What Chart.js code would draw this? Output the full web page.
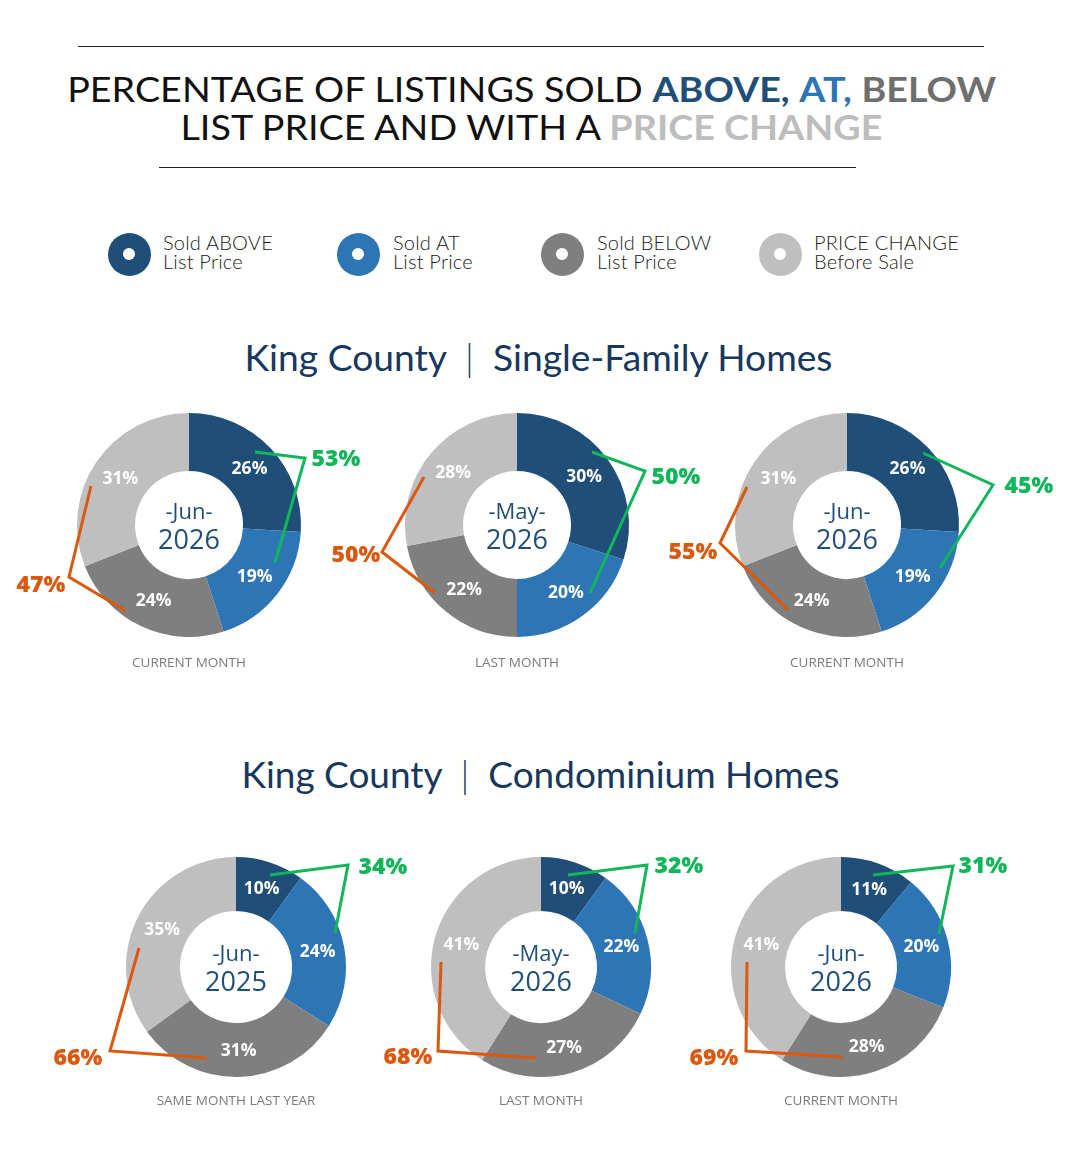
<!DOCTYPE html>
<html>
<head>
<meta charset="utf-8">
<script src="https://cdn.jsdelivr.net/npm/chart.js@4.4.1/dist/chart.umd.min.js"></script>
<style>
html,body{margin:0;padding:0;background:#fff;}
body{width:1080px;height:1158px;position:relative;overflow:hidden;font-family:Lato,"Open Sans",sans-serif;}
.rule{position:absolute;height:1px;background:#222;}
.line{position:absolute;left:0;width:1080px;text-align:center;white-space:pre;line-height:1.2;}
.line span{display:inline-block;transform-origin:50% 50%;}
.t{font-size:35px;font-weight:400;color:#111;}
.t b{font-weight:700;}
.sub{font-size:37px;font-weight:400;color:#17375e;}
.sub i{font-style:normal;font-weight:300;}
.ico{position:absolute;width:43px;height:43px;border-radius:50%;}
.ico::after{content:"";position:absolute;left:15.5px;top:15.5px;width:12px;height:12px;border-radius:50%;background:#fff;}
.ltxt{position:absolute;font-size:20px;line-height:19px;font-weight:300;color:#1a1a1a;white-space:nowrap;letter-spacing:0.2px;}
canvas{position:absolute;}
</style>
</head>
<body>
<div class="rule" style="left:78px;width:906px;top:46px;"></div>
<div class="line t" style="top:67px;"><span id="t1">PERCENTAGE OF LISTINGS SOLD <b style="color:#1f4e79">ABOVE,</b> <b style="color:#2e75b6">AT,</b> <b style="color:#6f6f6f">BELOW</b></span></div>
<div class="line t" style="top:105px;"><span id="t2">LIST PRICE AND WITH A <b style="color:#bdbdbd">PRICE CHANGE</b></span></div>
<div class="rule" style="left:159px;width:697px;top:167px;"></div>
<div id="legend"></div>
<div class="line sub" style="top:335px;"><span id="s1"></span></div>
<div class="line sub" style="top:752px;"><span id="s2"></span></div>
<div id="charts"></div>
<script>
// ---------- DATA ----------
const segmentNames = ['Sold ABOVE List Price', 'Sold AT List Price', 'Sold BELOW List Price', 'PRICE CHANGE Before Sale'];
const legendLine1 = ['Sold ABOVE', 'Sold AT', 'Sold BELOW', 'PRICE CHANGE'];
const legendLine2 = ['List Price', 'List Price', 'List Price', 'Before Sale'];
const segColors = ['#1f4e79', '#2e75b6', '#7f7f7f', '#bfbfbf'];

const sfTitle = ['King County', 'Single-Family Homes'];
const sfMonths = ['Jun', 'May', 'Jun'];
const sfYears = ['2026', '2026', '2026'];
const sfCaptions = ['CURRENT MONTH', 'LAST MONTH', 'CURRENT MONTH'];
const sfAbove = [26, 30, 26];
const sfAt = [19, 20, 19];
const sfBelow = [24, 22, 24];
const sfChange = [31, 28, 31];
const sfAboveAtTotal = [53, 50, 45];
const sfBelowChangeTotal = [47, 50, 55];

const condoTitle = ['King County', 'Condominium Homes'];
const condoMonths = ['Jun', 'May', 'Jun'];
const condoYears = ['2025', '2026', '2026'];
const condoCaptions = ['SAME MONTH LAST YEAR', 'LAST MONTH', 'CURRENT MONTH'];
const condoAbove = [10, 10, 11];
const condoAt = [24, 22, 20];
const condoBelow = [31, 27, 28];
const condoChange = [35, 41, 41];
const condoAboveAtTotal = [34, 32, 31];
const condoBelowChangeTotal = [66, 68, 69];

// ---------- LAYOUT (positions / styles only) ----------
const GREEN = '#12b65a';
const ORANGE = '#db580f';
const sfLayout = {
  centers: [[189, 525], [517, 525], [847, 525]], R: 112, inner: 54,
  green: [[[66,-73],[116,-67],[86,38]], [[75,-73],[128,-54],[73,68]], [[76,-72],[146,-40],[93,43]]],
  orange: [[[-98,-39],[-120,52],[-63,86]], [[-93,-48],[-135,27],[-82,68]], [[-100,-38],[-127,18],[-59,85]]],
  greenLab: [[147,-66], [159,-48], [182,-39]],
  orangeLab: [[-148,60], [-161,30], [-154,27]],
  capDy: 142
};
const condoLayout = {
  centers: [[236, 967], [541, 967], [841, 967]], R: 110, inner: 56,
  green: [[[34,-92],[112,-102],[99,-34]], [[27,-92],[106,-102],[94,-34]], [[32,-92],[112,-101],[98,-33]]],
  orange: [[[-97,-19],[-126,84],[-29,91]], [[-100,-5],[-103,84],[-5,91]], [[-94,-5],[-95,84],[2,90]]],
  greenLab: [[147,-100], [138,-101], [142,-101]],
  orangeLab: [[-158,91], [-133,90], [-127,91]],
  capDy: 138
};
const legendX = [[129, 163], [358, 393], [562, 597], [780, 814]];

// ---------- TITLES ----------
document.getElementById('s1').innerHTML = sfTitle[0] + '  <i>|</i>  ' + sfTitle[1];
document.getElementById('s2').innerHTML = condoTitle[0] + '  <i>|</i>  ' + condoTitle[1];
function fitBox(id, left, right) {
  const el = document.getElementById(id);
  el.style.transform = 'none';
  const r = el.getBoundingClientRect();
  const s = (right - left) / r.width;
  const dx = (left + right) / 2 - (r.left + r.width / 2);
  el.style.transform = 'translateX(' + dx + 'px) scaleX(' + s + ')';
}
fitBox('t1', 67, 996); fitBox('t2', 180, 882); fitBox('s1', 244, 832); fitBox('s2', 241, 839);

// ---------- LEGEND ----------
const legend = document.getElementById('legend');
legendLine1.forEach((l1, i) => {
  const ico = document.createElement('div');
  ico.className = 'ico';
  ico.style.left = (legendX[i][0] - 21.5) + 'px';
  ico.style.top = (254 - 21.5) + 'px';
  ico.style.background = segColors[i];
  legend.appendChild(ico);
  const t = document.createElement('div');
  t.className = 'ltxt';
  t.style.left = legendX[i][1] + 'px';
  t.style.top = '233px';
  t.innerHTML = l1 + '<br>' + legendLine2[i];
  legend.appendChild(t);
});

// ---------- CHARTS ----------
const W = 440, H = 300;
function decorPlugin(cfg) {
  return {
    id: 'ringDecor',
    afterDatasetsDraw(chart) {
      const ctx = chart.ctx;
      const arcs = chart.getDatasetMeta(0).data;
      const cx = arcs[0].x, cy = arcs[0].y;
      ctx.save();
      const bracket = (pts, color) => {
        ctx.beginPath();
        pts.forEach((p, i) => { const x = cx + p[0], y = cy + p[1]; if (i) ctx.lineTo(x, y); else ctx.moveTo(x, y); });
        ctx.strokeStyle = color; ctx.lineWidth = 3; ctx.lineJoin = 'miter'; ctx.lineCap = 'butt';
        ctx.stroke();
      };
      bracket(cfg.green, GREEN);
      bracket(cfg.orange, ORANGE);
      const vals = chart.data.datasets[0].data;
      ctx.textAlign = 'center';
      ctx.textBaseline = 'middle';
      ctx.fillStyle = '#ffffff';
      ctx.font = '700 17.5px "Open Sans"';
      arcs.forEach((a, i) => { const p = a.getCenterPoint(); ctx.fillText(vals[i] + '%', p.x, p.y + 1); });
      ctx.font = '800 23px "Open Sans"';
      ctx.fillStyle = GREEN;
      ctx.fillText(cfg.greenVal + '%', cx + cfg.greenLab[0], cy + cfg.greenLab[1]);
      ctx.fillStyle = ORANGE;
      ctx.fillText(cfg.orangeVal + '%', cx + cfg.orangeLab[0], cy + cfg.orangeLab[1]);
      ctx.textBaseline = 'alphabetic';
      ctx.fillStyle = '#1f4e79';
      ctx.font = '400 22px "Open Sans"';
      ctx.fillText('-' + cfg.month + '-', cx, cy - 6);
      ctx.font = '400 27px "Open Sans"';
      ctx.fillText(cfg.year, cx, cy + 24);
      ctx.fillStyle = '#7a7a7a';
      ctx.font = '400 13.5px "Open Sans"';
      ctx.fillText(cfg.caption, cx, cy + cfg.capDy);
      ctx.restore();
    }
  };
}
function makeRing(layout, i, values, month, year, caption, greenVal, orangeVal) {
  const [cx, cy] = layout.centers[i];
  const cv = document.createElement('canvas');
  cv.width = W; cv.height = H;
  cv.style.left = (cx - W / 2) + 'px';
  cv.style.top = (cy - H / 2) + 'px';
  cv.style.width = W + 'px'; cv.style.height = H + 'px';
  document.getElementById('charts').appendChild(cv);
  const R = layout.R;
  new Chart(cv, {
    type: 'doughnut',
    data: { labels: segmentNames, datasets: [{ data: values, backgroundColor: segColors, borderWidth: 0 }] },
    options: {
      responsive: false, animation: false, events: [], cutout: layout.inner,
      layout: { padding: { top: H / 2 - R, bottom: H / 2 - R, left: W / 2 - R, right: W / 2 - R } },
      plugins: { legend: { display: false }, tooltip: { enabled: false } }
    },
    plugins: [decorPlugin({
      green: layout.green[i], orange: layout.orange[i],
      greenLab: layout.greenLab[i], orangeLab: layout.orangeLab[i],
      greenVal, orangeVal, month, year, caption, capDy: layout.capDy
    })]
  });
}
for (let i = 0; i < 3; i++) {
  makeRing(sfLayout, i, [sfAbove[i], sfAt[i], sfBelow[i], sfChange[i]], sfMonths[i], sfYears[i], sfCaptions[i], sfAboveAtTotal[i], sfBelowChangeTotal[i]);
  makeRing(condoLayout, i, [condoAbove[i], condoAt[i], condoBelow[i], condoChange[i]], condoMonths[i], condoYears[i], condoCaptions[i], condoAboveAtTotal[i], condoBelowChangeTotal[i]);
}
</script>
</body>
</html>
